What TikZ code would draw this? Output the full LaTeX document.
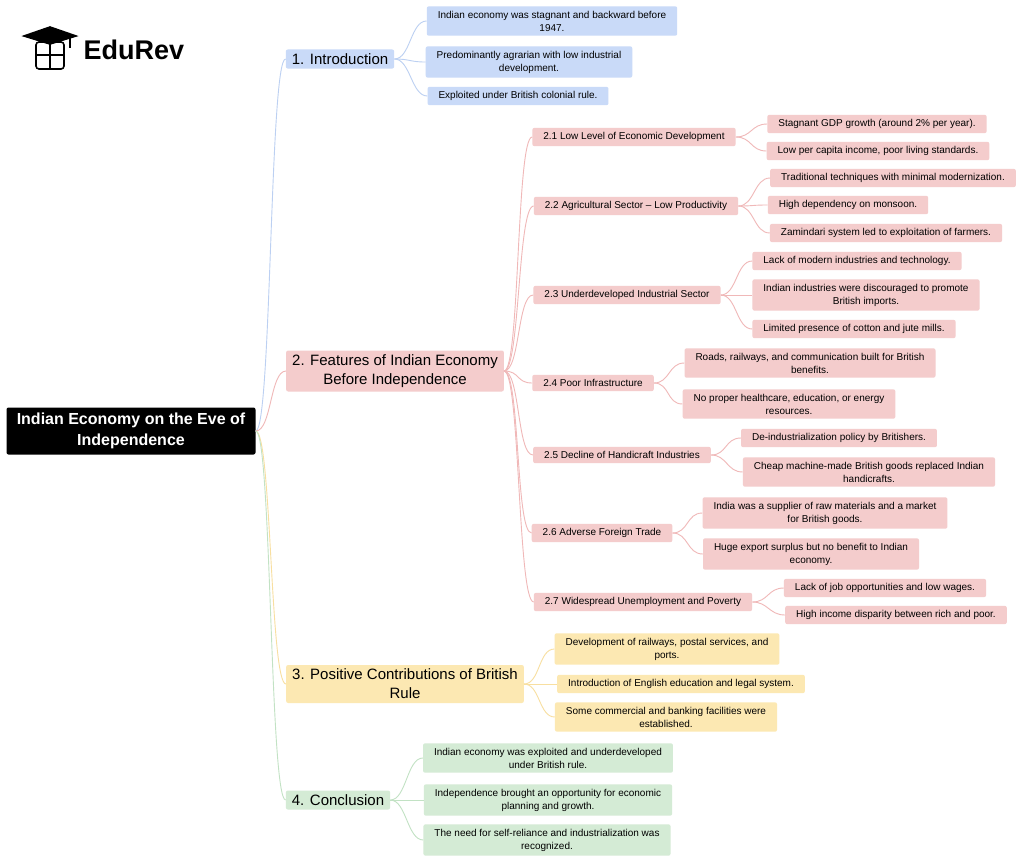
\documentclass[tikz,border=0pt]{standalone}
\usepackage{fontspec}
\setmainfont{Liberation Sans}
\begin{document}
\begin{tikzpicture}[x=1pt,y=-1pt,
 base/.style={rounded corners=2pt,align=center,inner xsep=11pt,inner ysep=4.5pt,font=\fontsize{10}{13}\selectfont},
 head/.style={base,font=\fontsize{15}{19}\selectfont,inner ysep=4pt,inner xsep=6pt},
 bl/.style={fill=cB}, pk/.style={fill=cP}, yl/.style={fill=cY}, gr/.style={fill=cG},
 lk/.style={line width=0.9pt}]
\definecolor{cB}{HTML}{C9DAF8}\definecolor{cP}{HTML}{F4CCCC}
\definecolor{cY}{HTML}{FCE8B2}\definecolor{cG}{HTML}{D4EBD5}
\definecolor{lB}{HTML}{BCD0F2}\definecolor{lP}{HTML}{F0B8B8}
\definecolor{lY}{HTML}{F8DFA0}\definecolor{lG}{HTML}{C2E2C4}
\useasboundingbox[fill=white] (0,0) rectangle (1024,863);
\newcommand\lnk[3]{\draw[lk,#1] (#2.east) .. controls +(16,0) and +(-16,0) .. (#3.west);}
% logo
\node[font=\bfseries\fontsize{27}{30}\selectfont,anchor=west] (logo) at (80,50) {EduRev};
\begin{scope}[line width=1.6pt]
\draw[fill=black] (24,36) -- (50,27) -- (76,36) -- (50,44) -- cycle;
\draw[rounded corners=3pt] (36,42) rectangle (64,69);
\draw (36,55) -- (64,55) (50,44) -- (50,69);
\draw (70,37) -- (70,48);
\end{scope}
% root
\node[fill=black,text=white,font=\bfseries\fontsize{16}{21}\selectfont,align=center,rounded corners=2pt,minimum width=249pt,minimum height=47pt] (root) at (131,431) {Indian Economy on the Eve of\\Independence};
% branches
\node[head,bl] (b1) at (340,59) {1. Introduction};
\node[head,pk] (b2) at (395,371) {2. Features of Indian Economy\\Before Independence};
\node[head,yl] (b3) at (405,684) {3. Positive Contributions of British\\Rule};
\node[head,gr] (b4) at (338,800) {4. Conclusion};
\lnk{lB}{root}{b1}\lnk{lP}{root}{b2}\lnk{lY}{root}{b3}\lnk{lG}{root}{b4}
% intro
\node[base,bl] (i1) at (552,21) {Indian economy was stagnant and backward before\\1947.};
\node[base,bl] (i2) at (529,62) {Predominantly agrarian with low industrial\\development.};
\node[base,bl] (i3) at (518,96) {Exploited under British colonial rule.};
\foreach \n in {i1,i2,i3}{\lnk{lB}{b1}{\n}}
% features
\node[base,pk] (s1) at (634,137) {2.1 Low Level of Economic Development};
\node[base,pk] (s2) at (636,206) {2.2 Agricultural Sector -- Low Productivity};
\node[base,pk] (s3) at (627,295) {2.3 Underdeveloped Industrial Sector};
\node[base,pk] (s4) at (593,383) {2.4 Poor Infrastructure};
\node[base,pk] (s5) at (622,455) {2.5 Decline of Handicraft Industries};
\node[base,pk] (s6) at (602,533) {2.6 Adverse Foreign Trade};
\node[base,pk] (s7) at (643,602) {2.7 Widespread Unemployment and Poverty};
\foreach \n in {s1,s2,s3,s4,s5,s6,s7}{\lnk{lP}{b2}{\n}}
\node[base,pk] (a1) at (877,124) {Stagnant GDP growth (around 2\% per year).};
\node[base,pk] (a2) at (878,151) {Low per capita income, poor living standards.};
\lnk{lP}{s1}{a1}\lnk{lP}{s1}{a2}
\node[base,pk] (c1) at (893,178) {Traditional techniques with minimal modernization.};
\node[base,pk] (c2) at (848,205) {High dependency on monsoon.};
\node[base,pk] (c3) at (886,233) {Zamindari system led to exploitation of farmers.};
\lnk{lP}{s2}{c1}\lnk{lP}{s2}{c2}\lnk{lP}{s2}{c3}
\node[base,pk] (d1) at (857,261) {Lack of modern industries and technology.};
\node[base,pk] (d2) at (866,295) {Indian industries were discouraged to promote\\British imports.};
\node[base,pk] (d3) at (854,329) {Limited presence of cotton and jute mills.};
\lnk{lP}{s3}{d1}\lnk{lP}{s3}{d2}\lnk{lP}{s3}{d3}
\node[base,pk] (e1) at (810,363) {Roads, railways, and communication built for British\\benefits.};
\node[base,pk] (e2) at (789,404) {No proper healthcare, education, or energy\\resources.};
\lnk{lP}{s4}{e1}\lnk{lP}{s4}{e2}
\node[base,pk] (f1) at (839,438) {De-industrialization policy by Britishers.};
\node[base,pk] (f2) at (869,472) {Cheap machine-made British goods replaced Indian\\handicrafts.};
\lnk{lP}{s5}{f1}\lnk{lP}{s5}{f2}
\node[base,pk] (g1) at (825,513) {India was a supplier of raw materials and a market\\for British goods.};
\node[base,pk] (g2) at (811,554) {Huge export surplus but no benefit to Indian\\economy.};
\lnk{lP}{s6}{g1}\lnk{lP}{s6}{g2}
\node[base,pk] (h1) at (885,588) {Lack of job opportunities and low wages.};
\node[base,pk] (h2) at (896,615) {High income disparity between rich and poor.};
\lnk{lP}{s7}{h1}\lnk{lP}{s7}{h2}
% positive
\node[base,yl] (p1) at (667,649) {Development of railways, postal services, and\\ports.};
\node[base,yl] (p2) at (681,684) {Introduction of English education and legal system.};
\node[base,yl] (p3) at (666,717) {Some commercial and banking facilities were\\established.};
\foreach \n in {p1,p2,p3}{\lnk{lY}{b3}{\n}}
% conclusion
\node[base,gr] (k1) at (548,758) {Indian economy was exploited and underdeveloped\\under British rule.};
\node[base,gr] (k2) at (548,800) {Independence brought an opportunity for economic\\planning and growth.};
\node[base,gr] (k3) at (547,840) {The need for self-reliance and industrialization was\\recognized.};
\foreach \n in {k1,k2,k3}{\lnk{lG}{b4}{\n}}
\end{tikzpicture}
\end{document}
